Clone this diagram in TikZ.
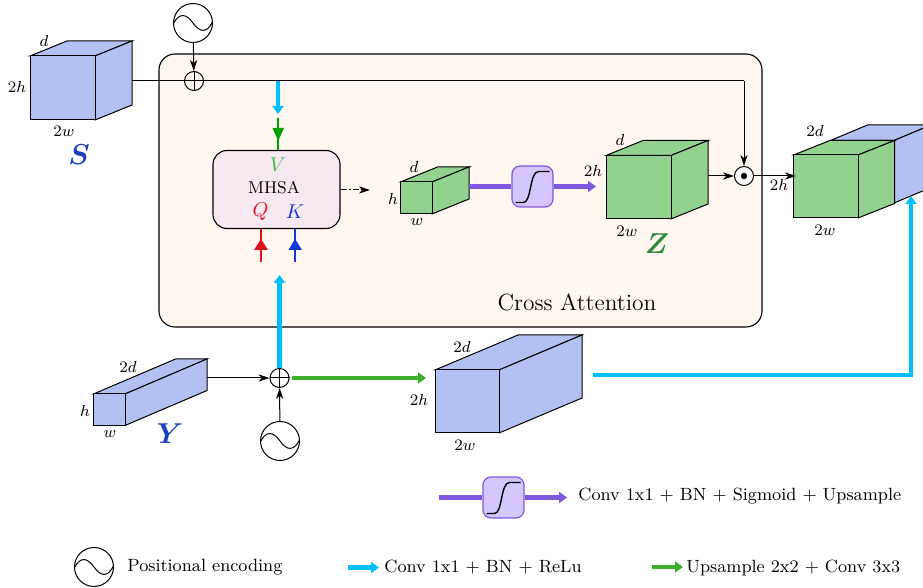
\documentclass[tikz,border=0pt]{standalone}
\usepackage{amsmath}
\usepackage{bm}
\usetikzlibrary{arrows.meta,calc}
\definecolor{cubeblue}{HTML}{B3C0F2}
\definecolor{cubegreen}{HTML}{93D18F}
\definecolor{cyanline}{HTML}{00BFFF}
\definecolor{greenline}{HTML}{3CAF2C}
\definecolor{purpleline}{HTML}{7E57E0}
\definecolor{purplefill}{HTML}{D5C6FF}
\definecolor{attnbg}{HTML}{FFF7F0}
\definecolor{mhsabg}{HTML}{F7E9F1}
\definecolor{vgreen}{HTML}{3DB54A}
\definecolor{vtip}{HTML}{00A000}
\definecolor{qred}{HTML}{E0101E}
\definecolor{kblue}{HTML}{1238D8}
\definecolor{sblue}{HTML}{1A3FBF}
\definecolor{zgreen}{HTML}{2E8B3A}
\tikzset{
  x=0.5pt,y=-0.5pt,
  face/.style={draw=black,line width=0.5pt,line join=miter},
  blackarrow/.style={draw=black,line width=0.5pt,-{Stealth[length=5.5pt,width=3.6pt,inset=1.6pt]}},
  cyanarrow/.style={draw=cyanline,line width=2.3pt,-{Triangle[length=4pt,width=5.5pt]}},
  greenarrow/.style={draw=greenline,line width=2.1pt,-{Triangle[length=4pt,width=5.5pt]}},
  purplearrow/.style={draw=purpleline,line width=2.3pt,-{Triangle[length=4pt,width=5.5pt]}},
  purpleplain/.style={draw=purpleline,line width=2.3pt},
  round/.style={circle,draw=black,line width=0.5pt,inner sep=0pt,minimum size=#1},
  sigbox/.style={draw=purpleline,fill=purplefill,line width=0.6pt,rounded corners=4pt,minimum size=20.5pt,inner sep=0pt},
  lab/.style={inner sep=0pt,font=\fontsize{8}{9}\selectfont},
  legend/.style={inner sep=0pt,anchor=west,font=\fontsize{8.85}{11}\selectfont},
  big/.style={inner sep=0pt,font=\fontsize{15}{16}\selectfont},
}
\newcommand{\cuboid}[8]{% fill, name, x0,y0,x1,y1 (front), dx, dy
  \node[inner sep=0pt,minimum size=0pt] (#2) at ({(#3+#5)/2},{(#4+#6)/2}) {};
  \filldraw[face,fill=#1] (#3,#4) -- ({#3+#7},{#4+#8}) -- ({#5+#7},{#4+#8}) -- (#5,#4) -- cycle;
  \filldraw[face,fill=#1] (#5,#4) -- ({#5+#7},{#4+#8}) -- ({#5+#7},{#6+#8}) -- (#5,#6) -- cycle;
  \filldraw[face,fill=#1] (#3,#4) rectangle (#5,#6);
}
\newcommand{\sinewave}[1]{%
  \draw[line width=0.5pt,shift={(#1.center)}] (-19.5,0.5) .. controls (-14,-10) and (-7,-10) .. (0,0) .. controls (7,10) and (14,10) .. (19.5,-1);}
\newcommand{\sigmoid}[1]{%
  \draw[line width=0.7pt,shift={(#1.center)}] (-17,16) -- (-9,16) .. controls (-1,16) and (-3,-15) .. (6,-15) -- (17,-15);}
\newcommand{\crossmark}[1]{%
  \draw[line width=0.5pt] (#1.north) -- (#1.south) (#1.west) -- (#1.east);}
\begin{document}
\begin{tikzpicture}
\useasboundingbox (0,0) rectangle (923,588);

% cross attention panel
\node[draw=black,fill=attnbg,line width=0.55pt,rounded corners=8pt,minimum width=301.5pt,minimum height=136.5pt,inner sep=0pt] (panel) at (460.5,190.5) {};
\node[inner sep=0pt,font=\fontsize{11.7}{13}\selectfont] (cross) at (577,302) {Cross Attention};

% cubes
\cuboid{cubeblue}{S}{30}{56}{95}{120}{37}{-15}
\cuboid{cubegreen}{small}{400.5}{182}{432}{214}{37}{-15}
\cuboid{cubegreen}{Z}{606}{155.5}{671}{219}{37}{-15}
\cuboid{cubeblue}{Y}{93.5}{394}{125}{425.5}{82}{-35}
\cuboid{cubeblue}{bigY}{435}{370}{499}{433}{83}{-35}
\cuboid{cubeblue}{backcube}{830.5}{140.5}{894}{203}{37}{-15.5}
\cuboid{cubegreen}{out}{793.5}{155}{858}{218}{36.5}{-14.5}

% named connector ends
\coordinate (Sout) at (132,81);
\coordinate (Yout) at (207,378);
\coordinate (Zout) at (708,176);
\coordinate (smallout) at (469,186.5);
\coordinate (outin) at (796,176);
\coordinate (bigYout) at (593,375);
\coordinate (outblue) at (911,196);
\coordinate (cyantop) at (278,81);
\coordinate (cyanend) at (278,114);
\coordinate (vstart) at (278,118);
\coordinate (qstart) at (261,262);
\coordinate (kstart) at (295,262);
\coordinate (cyanup) at (279.5,275);
\coordinate (mhsaend) at (370,190);
\coordinate (greenend) at (426,378);
\coordinate (sigin) at (596,186.5);

% operators
\node[round=19.5pt,fill=white] (sineT) at (193,23) {};
\node[round=19.5pt,fill=white] (sineB) at (280,441) {};
\node[round=19.5pt,fill=white] (sineL) at (94,567) {};
\sinewave{sineT}\sinewave{sineB}\sinewave{sineL}
\node[round=9.5pt] (plusT) at (194,81) {};
\node[round=9.5pt] (plusB) at (279.5,378) {};
\crossmark{plusT}\crossmark{plusB}
\node[round=9.5pt,fill=white] (dot) at (744,176) {};
\fill (dot.center) circle (3.2);

% MHSA
\node[draw=black,fill=mhsabg,line width=0.55pt,rounded corners=7pt,minimum width=63.5pt,minimum height=39pt,inner sep=0pt] (mhsa) at (276.5,189.5) {};
\node[inner sep=0pt,text=vgreen,font=\fontsize{10}{12}\selectfont] (V) at (278,165) {$V$};
\node[lab,font=\fontsize{8.5}{10}\selectfont] (mh) at (274,188) {MHSA};
\node[inner sep=0pt,text=qred,font=\fontsize{10}{12}\selectfont] (Q) at (260.5,212) {$Q$};
\node[inner sep=0pt,text=kblue,font=\fontsize{10}{12}\selectfont] (K) at (295,212) {$K$};

% sigmoid boxes
\node[sigbox] (sig) at (532.5,186.5) {};
\node[sigbox] (sigL) at (503.5,497.5) {};
\sigmoid{sig}\sigmoid{sigL}

% connectors
\draw[blackarrow] (sineT) -- (plusT);
\draw[line width=0.5pt] (Sout) -- (plusT.west) (plusT.east) -- (dot |- Sout);
\draw[blackarrow] (dot |- Sout) -- (dot.north);
\draw[blackarrow] (Yout) -- (plusB.west);
\draw[blackarrow] (sineB) -- (plusB);
\draw[blackarrow] (Zout) -- (dot.west);
\draw[blackarrow] (dot.east) -- (outin);
\draw[blackarrow,dash pattern=on 3pt off 1pt on 1pt off 1pt] (mhsa.east |- mhsaend) -- (mhsaend);

\draw[cyanarrow] (cyantop) -- (cyanend);
\draw[cyanarrow] (plusB.north) -- (cyanup);
\draw[greenarrow] (292,378) -- (greenend);
\draw[cyanarrow] (bigYout) -| (outblue);
\draw[purpleplain] (smallout) -- (sig.west);
\draw[purplearrow] (sig.east) -- (sigin);

% V/Q/K feeds
\draw[draw=vtip,line width=0.75pt] (vstart) -- (mhsa.north -| vstart);
\fill[vtip] (272.5,128) -- (284,128) -- (278.2,141) -- cycle;
\draw[draw=qred,line width=0.75pt] (qstart) -- (mhsa.south -| qstart);
\fill[qred] (254,250) -- (268,250) -- (261,239) -- cycle;
\draw[draw=kblue,line width=0.75pt] (kstart) -- (mhsa.south -| kstart);
\fill[kblue] (288.5,250) -- (302,250) -- (295,239) -- cycle;

% cube labels
\node[lab] (l1) at (44,41) {$d$};
\node[lab] (l2) at (17,87) {$2h$};
\node[lab] (l3) at (64,131) {$2w$};
\node[big,text=sblue] (l4) at (79,155) {$\bm{S}$};
\node[lab] (l5) at (414,167) {$d$};
\node[lab] (l6) at (393,199) {$h$};
\node[lab] (l7) at (417,222) {$w$};
\node[lab] (l8) at (593,171) {$2h$};
\node[lab] (l9) at (620,140) {$d$};
\node[lab] (l10) at (627,231) {$2w$};
\node[big,text=zgreen] (l11) at (657,244) {$\bm{Z}$};
\node[lab] (l12) at (779,185) {$2h$};
\node[lab] (l13) at (815,131) {$2d$};
\node[lab] (l14) at (825,230) {$2w$};
\node[lab] (l15) at (128,367) {$2d$};
\node[lab] (l16) at (85,411) {$h$};
\node[lab] (l17) at (110,434) {$w$};
\node[big,text=sblue] (l18) at (170,434) {$\bm{Y}$};
\node[lab] (l19) at (462,347) {$2d$};
\node[lab] (l20) at (419,400) {$2h$};
\node[lab] (l21) at (465,445) {$2w$};

% legend
\coordinate (la) at (439,497.5);
\coordinate (lb) at (567,497.5);
\draw[purpleplain] (la) -- (sigL.west);
\draw[purplearrow] (sigL.east) -- (lb);
\node[legend] (t1) at (578,496.5) {Conv 1x1 + BN + Sigmoid + Upsample};
\node[legend] (t2) at (127,567) {Positional encoding};
\coordinate (ca) at (348,567.5);
\coordinate (cb) at (379,567.5);
\draw[cyanarrow] (ca) -- (cb);
\node[legend] (t3) at (384,567.5) {Conv 1x1 + BN + ReLu};
\coordinate (ga) at (652,567);
\coordinate (gb) at (683,567);
\draw[greenarrow] (ga) -- (gb);
\node[legend] (t4) at (686,567.5) {Upsample 2x2 + Conv 3x3};
\end{tikzpicture}
\end{document}
